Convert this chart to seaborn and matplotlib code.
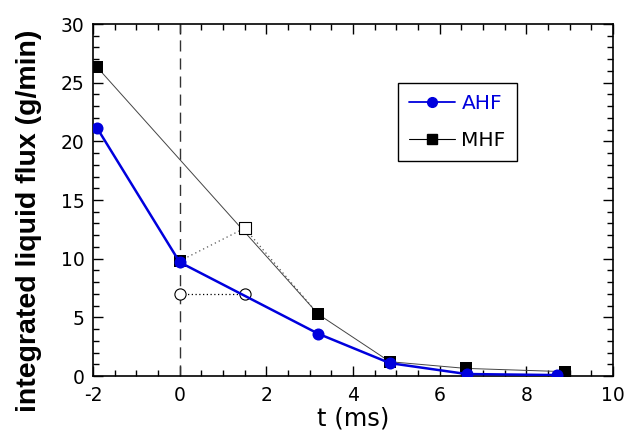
import matplotlib
matplotlib.use("Agg")
import matplotlib.pyplot as plt
import seaborn as sns
from matplotlib.ticker import MultipleLocator
from matplotlib.lines import Line2D

sns.set_style("ticks")
plt.rcParams['font.family'] = ['DejaVu Sans']
plt.rcParams['axes.unicode_minus'] = False
plt.rcParams['text.color'] = 'black'
plt.rcParams['axes.labelcolor'] = 'black'

ahf_t = [-1.9, 0.0, 3.2, 4.85, 6.62, 8.7]
ahf_f = [21.1, 9.7, 3.6, 1.1, 0.17, 0.08]
mhf_t = [-1.9, 3.2, 4.85, 6.6, 8.9]
mhf_f = [26.3, 5.26, 1.22, 0.65, 0.37]
mhf0_t = [0.0]
mhf0_f = [9.8]
open_sq_t = [0.0, 1.5, 3.2]
open_sq_f = [9.8, 12.6, 5.26]
open_ci_t = [0.0, 1.5]
open_ci_f = [7.0, 7.0]

fig = plt.figure(figsize=(6.27, 4.34), dpi=100)
ax = fig.add_axes([0.1483, 0.1336, 0.8294, 0.8111])

blue = "#0000dd"

ax.axvline(0, color="#333333", lw=1.0, ls=(0, (8, 5)), zorder=1)

sns.lineplot(x=open_sq_t, y=open_sq_f, ax=ax, color="#555555", lw=0.9,
             ls=(0, (1, 2.5)), sort=False, estimator=None, zorder=2)
sns.lineplot(x=open_ci_t, y=open_ci_f, ax=ax, color="black", lw=0.9,
             ls=(0, (1, 2)), sort=False, estimator=None, zorder=2)

sns.lineplot(x=mhf_t, y=mhf_f, ax=ax, color="#444444", lw=0.7,
             sort=False, estimator=None, zorder=3)
sns.scatterplot(x=mhf_t + mhf0_t, y=mhf_f + mhf0_f, ax=ax, marker="s", s=75,
                color="black", edgecolor="black", linewidth=0, zorder=4)
sns.scatterplot(x=open_sq_t[1:2], y=open_sq_f[1:2], ax=ax, marker="s", s=65,
                facecolor="white", edgecolor="black", linewidth=0.8, zorder=5)
sns.scatterplot(x=open_ci_t, y=open_ci_f, ax=ax, marker="o", s=65,
                facecolor="white", edgecolor="black", linewidth=0.8, zorder=5)

sns.lineplot(x=ahf_t, y=ahf_f, ax=ax, color=blue, lw=1.8,
             sort=False, estimator=None, zorder=6)
sns.scatterplot(x=ahf_t, y=ahf_f, ax=ax, marker="o", s=75,
                color=blue, linewidth=0, zorder=7)

ax.set_xlim(-2, 10)
ax.set_ylim(0, 30)
ax.xaxis.set_major_locator(MultipleLocator(2))
ax.xaxis.set_minor_locator(MultipleLocator(0.5))
ax.yaxis.set_major_locator(MultipleLocator(5))
ax.yaxis.set_minor_locator(MultipleLocator(1))
ax.tick_params(which="both", direction="in", top=True, right=True,
               labelsize=13.5, colors="black")
ax.tick_params(which="major", length=7, width=1)
ax.tick_params(which="minor", length=4, width=1)
ax.tick_params(axis="x", which="major", pad=7)
ax.tick_params(axis="y", which="major", pad=6)
for sp in ax.spines.values():
    sp.set_linewidth(1.2)
    sp.set_color("black")

ax.set_xlabel("t (ms)", fontsize=17.5, labelpad=1, color="black")
ax.set_ylabel("integrated liquid flux (g/min)", fontsize=20.5,
              fontweight="bold", family=["Liberation Sans"], color="black")
ax.yaxis.set_label_coords(-0.098, 0.44)

h1 = Line2D([0], [0], color=blue, lw=1.3, marker="o", markersize=7)
h2 = Line2D([0], [0], color="black", lw=0.8, marker="s", markersize=7)
leg = ax.legend([h1, h2], ["AHF", "MHF"], loc="upper left",
                bbox_to_anchor=(0.5865, 0.832), fontsize=14.5, frameon=True,
                fancybox=False, edgecolor="black", framealpha=1,
                labelcolor=[blue, "black"], handlelength=2.3,
                borderpad=0.55, labelspacing=0.9, handletextpad=0.3,
                borderaxespad=0)
leg.get_frame().set_linewidth(1.0)

fig.savefig("out.png", dpi=100)
